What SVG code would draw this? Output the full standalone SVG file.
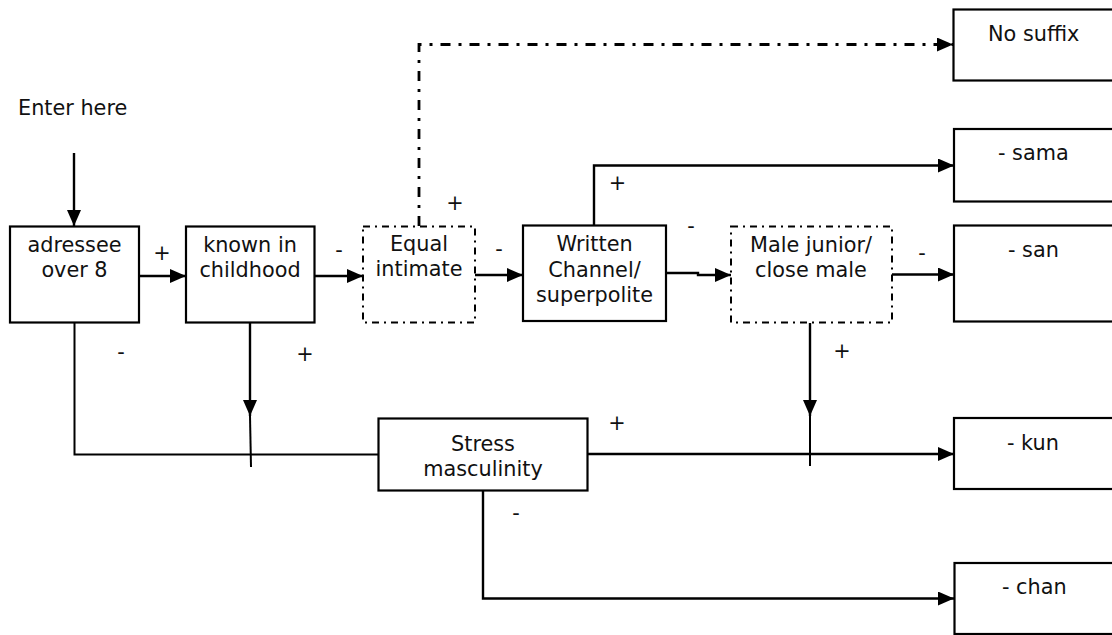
<svg xmlns="http://www.w3.org/2000/svg" width="1112" height="635" viewBox="0 0 1112 635">
<style>
text{font-family:"DejaVu Sans","Verdana",sans-serif;font-size:20.8px;fill:#111}
.c{text-anchor:middle}
.box{fill:#fff;stroke:#000;stroke-width:2.2}
.dbox{fill:#fff;stroke:#000;stroke-width:2;stroke-dasharray:7 5 2 5}
.ln{fill:none;stroke:#000;stroke-width:2.4}
.thin{fill:none;stroke:#000;stroke-width:2}
.dd{fill:none;stroke:#000;stroke-width:2.8;stroke-dasharray:10 8 3 8}
</style>
<defs>
<marker id="ah" markerUnits="userSpaceOnUse" markerWidth="17" markerHeight="15" refX="16" refY="7" orient="auto">
<path d="M0,0 L16,7 L0,14 z" fill="#000"/>
</marker>
</defs>
<rect width="1112" height="635" fill="#fff"/>
<g id="connectors">
<line class="ln" x1="74" y1="153" x2="74" y2="226" marker-end="url(#ah)"/>
<line class="ln" x1="139" y1="276" x2="186" y2="276" marker-end="url(#ah)"/>
<line class="ln" x1="314" y1="276" x2="363" y2="276" marker-end="url(#ah)"/>
<line class="ln" x1="475" y1="275" x2="523" y2="275" marker-end="url(#ah)"/>
<path class="ln" d="M666,273 H698 V275 H731" marker-end="url(#ah)"/>
<line class="ln" x1="892" y1="274.5" x2="954" y2="274.5" marker-end="url(#ah)"/>
<path class="ln" d="M594,226 V165.5 H954" marker-end="url(#ah)"/>
<path class="dd" d="M419,226 V44.5 H953" marker-end="url(#ah)"/>
<path class="thin" d="M74.5,323 V454.5 H378"/>
<line class="ln" x1="250" y1="323" x2="250" y2="416" marker-end="url(#ah)"/>
<line class="thin" x1="250" y1="416" x2="251" y2="467"/>
<line class="ln" x1="810" y1="323" x2="810" y2="416" marker-end="url(#ah)"/>
<line class="thin" x1="810" y1="416" x2="810" y2="466"/>
<line class="ln" x1="587" y1="454" x2="954" y2="454" marker-end="url(#ah)"/>
<path class="ln" d="M483,490 V598.5 H954" marker-end="url(#ah)"/>
</g>
<g id="labels">
<text x="18" y="115">Enter here</text>
<text class="c" x="162" y="260">+</text>
<text class="c" x="339" y="257">-</text>
<text class="c" x="499" y="256">-</text>
<text class="c" x="691" y="233">-</text>
<text class="c" x="922" y="260">-</text>
<text class="c" x="455" y="210">+</text>
<text class="c" x="617.5" y="189.5">+</text>
<text class="c" x="121" y="359">-</text>
<text class="c" x="305" y="360.5">+</text>
<text class="c" x="842" y="357.5">+</text>
<text class="c" x="617" y="429.5">+</text>
<text class="c" x="516" y="520">-</text>
</g>
<g id="adressee">
<rect class="box" x="10" y="226.5" width="129" height="96"/>
<text class="c" x="74.5" y="251.5">adressee</text>
<text class="c" x="74.5" y="276.5">over 8</text>
</g>
<g id="known">
<rect class="box" x="186" y="226.5" width="128.5" height="96"/>
<text class="c" x="250" y="251.5">known in</text>
<text class="c" x="250" y="276.5">childhood</text>
</g>
<g id="equal">
<rect class="dbox" x="363" y="226.5" width="112" height="96"/>
<text class="c" x="419" y="251">Equal</text>
<text class="c" x="419" y="276">intimate</text>
</g>
<g id="written">
<rect class="box" x="523" y="225.5" width="143" height="95.5"/>
<text class="c" x="594.5" y="251">Written</text>
<text class="c" x="594.5" y="276.5">Channel/</text>
<text class="c" x="594.5" y="301.5">superpolite</text>
</g>
<g id="male">
<rect class="dbox" x="731" y="226.5" width="161" height="96"/>
<text class="c" x="811" y="251.5">Male junior/</text>
<text class="c" x="811" y="276.5">close male</text>
</g>
<g id="stress">
<rect class="box" x="378.5" y="418.5" width="209" height="72"/>
<text class="c" x="483" y="451">Stress</text>
<text class="c" x="483" y="476">masculinity</text>
</g>
<g id="nosuffix">
<rect class="box" x="953.5" y="9.5" width="165" height="71"/>
<text x="988" y="40.5">No suffix</text>
</g>
<g id="sama">
<rect class="box" x="954" y="129" width="165" height="72.5"/>
<text x="998" y="160">- sama</text>
</g>
<g id="san">
<rect class="box" x="954" y="225.5" width="165" height="96"/>
<text x="1008" y="257">- san</text>
</g>
<g id="kun">
<rect class="box" x="954" y="418" width="165" height="71"/>
<text x="1007" y="450">- kun</text>
</g>
<g id="chan">
<rect class="box" x="954.5" y="563" width="165" height="71"/>
<text x="1002" y="594">- chan</text>
</g>
</svg>
